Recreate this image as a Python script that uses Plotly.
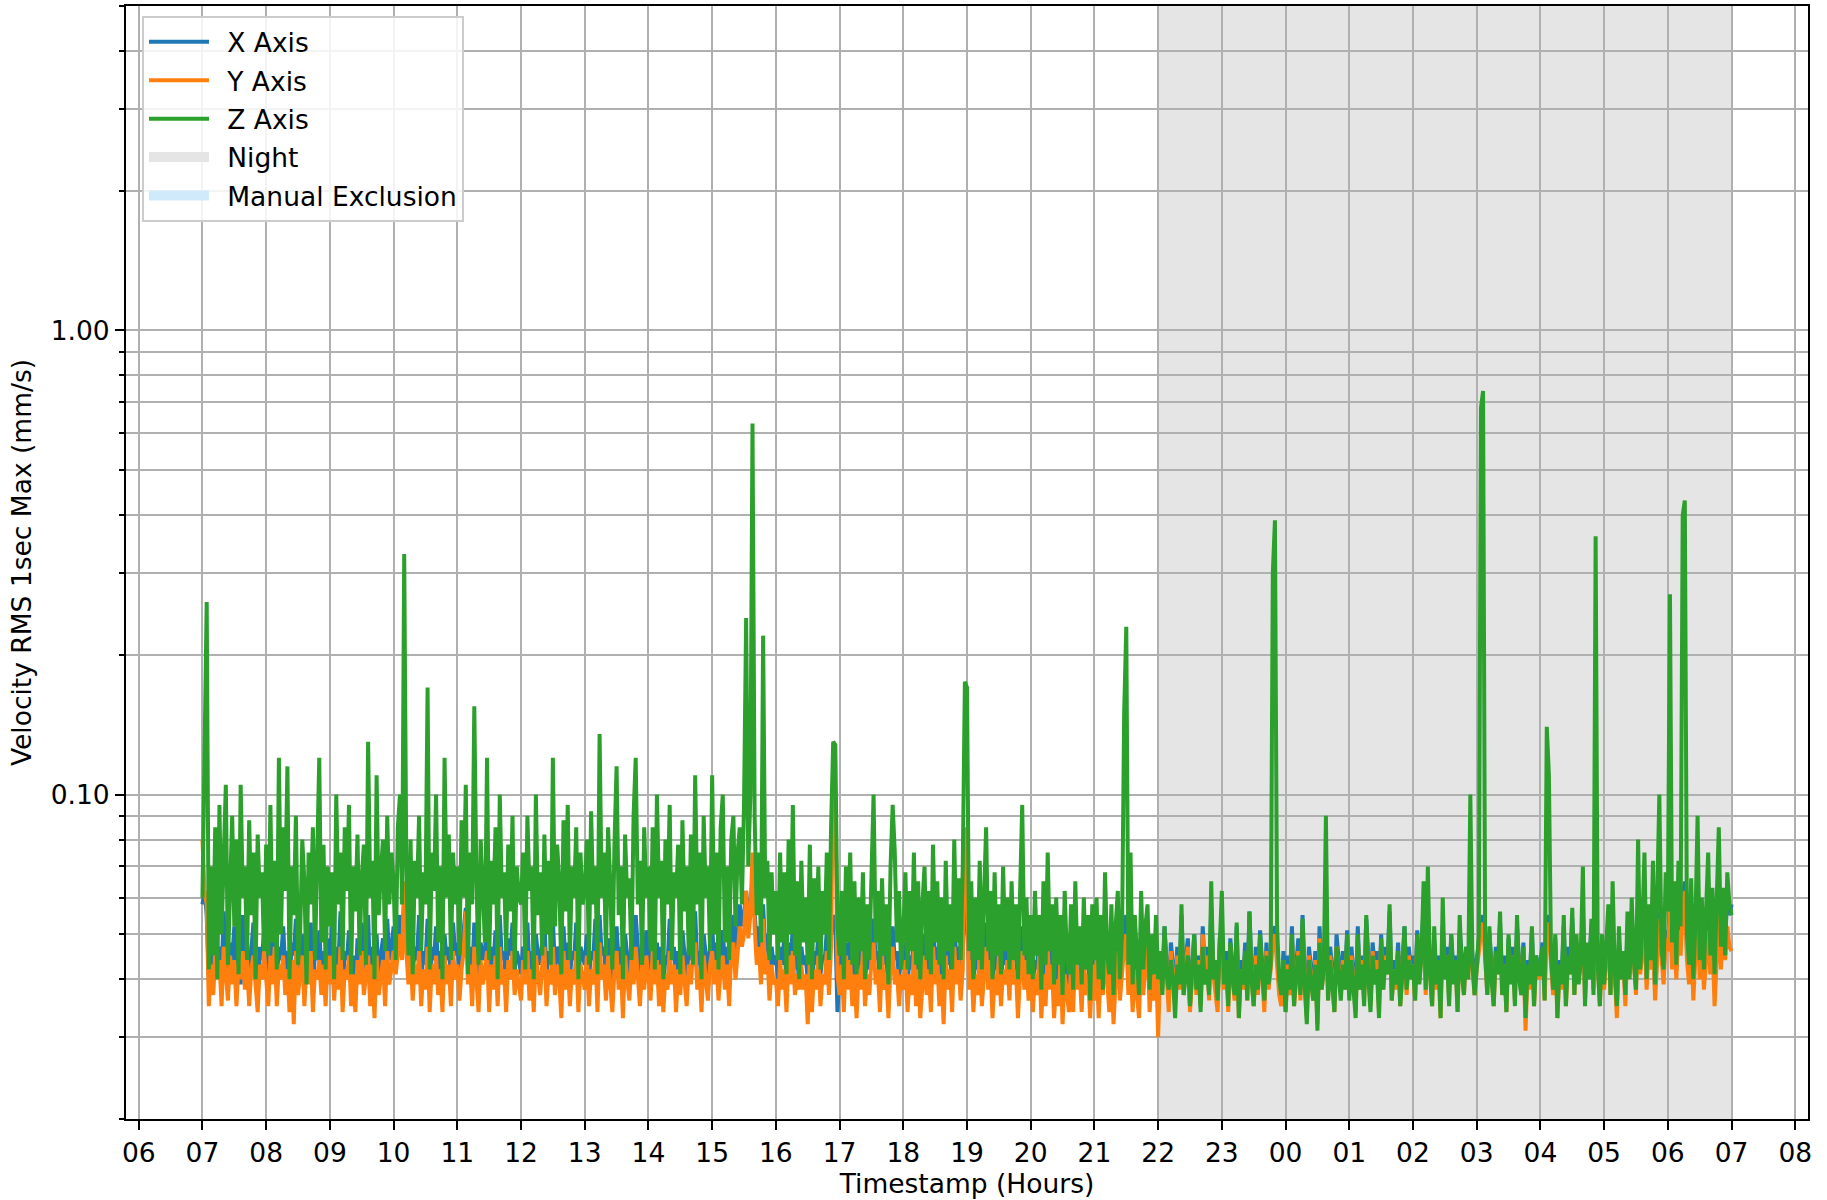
import pandas as pd
import plotly.graph_objects as go

# Sample times: 2-minute steps from 07:00 to 07:00 the next morning
start = "2024-05-13 07:00"
end = "2024-05-14 07:00"
step = "2min"

# Velocity RMS 1 s max (mm/s); two lines per hour, starting at 07:00
x_axis = [
    0.058, 0.062, 0.055, 0.040, 0.046, 0.037, 0.054, 0.043, 0.047, 0.041, 0.056, 0.045, 0.038, 0.048, 0.044,
    0.052, 0.042, 0.046, 0.039, 0.055, 0.044, 0.048, 0.040, 0.046, 0.053, 0.043, 0.038, 0.047, 0.044, 0.051,
    0.045, 0.040, 0.049, 0.043, 0.055, 0.040, 0.047, 0.044, 0.052, 0.042, 0.046, 0.038, 0.048, 0.045, 0.054,
    0.041, 0.044, 0.050, 0.039, 0.046, 0.043, 0.053, 0.037, 0.047, 0.044, 0.051, 0.042, 0.046, 0.039, 0.049,
    0.044, 0.052, 0.040, 0.047, 0.043, 0.056, 0.038, 0.046, 0.044, 0.051, 0.041, 0.045, 0.037, 0.049, 0.043,
    0.053, 0.042, 0.046, 0.055, 0.039, 0.047, 0.044, 0.050, 0.040, 0.045, 0.049, 0.042, 0.054, 0.044, 0.047,
    0.052, 0.046, 0.050, 0.055, 0.048, 0.060, 0.050, 0.045, 0.053, 0.041, 0.047, 0.044, 0.055, 0.040, 0.046,
    0.043, 0.054, 0.039, 0.047, 0.044, 0.052, 0.042, 0.046, 0.038, 0.050, 0.044, 0.047, 0.040, 0.053, 0.045,
    0.048, 0.041, 0.046, 0.052, 0.057, 0.043, 0.047, 0.040, 0.053, 0.045, 0.039, 0.048, 0.044, 0.046, 0.054,
    0.038, 0.047, 0.043, 0.051, 0.040, 0.055, 0.044, 0.046, 0.039, 0.049, 0.045, 0.053, 0.042, 0.046, 0.044,
    0.041, 0.047, 0.044, 0.053, 0.042, 0.046, 0.038, 0.050, 0.045, 0.043, 0.048, 0.055, 0.040, 0.046, 0.044,
    0.054, 0.042, 0.047, 0.045, 0.038, 0.052, 0.043, 0.048, 0.040, 0.046, 0.044, 0.053, 0.039, 0.047, 0.045,
    0.043, 0.050, 0.040, 0.046, 0.044, 0.054, 0.038, 0.055, 0.045, 0.047, 0.041, 0.049, 0.044, 0.039, 0.046,
    0.052, 0.043, 0.047, 0.037, 0.050, 0.045, 0.041, 0.048, 0.044, 0.055, 0.046, 0.040, 0.047, 0.043, 0.051,
    0.046, 0.041, 0.052, 0.044, 0.048, 0.040, 0.047, 0.038, 0.045, 0.043, 0.054, 0.044, 0.047, 0.039, 0.046,
    0.042, 0.051, 0.045, 0.040, 0.047, 0.044, 0.053, 0.056, 0.043, 0.046, 0.039, 0.050, 0.045, 0.041, 0.047,
    0.052, 0.044, 0.048, 0.041, 0.046, 0.051, 0.043, 0.047, 0.040, 0.052, 0.055, 0.045, 0.050, 0.058, 0.052,
    0.055, 0.062, 0.054, 0.058, 0.065, 0.056, 0.047, 0.052, 0.044, 0.058, 0.046, 0.050, 0.041, 0.047, 0.043,
    0.045, 0.040, 0.047, 0.043, 0.050, 0.038, 0.048, 0.044, 0.052, 0.042, 0.045, 0.039, 0.047, 0.043, 0.045,
    0.040, 0.049, 0.038, 0.046, 0.043, 0.050, 0.041, 0.045, 0.044, 0.051, 0.042, 0.050, 0.055, 0.052, 0.034,
    0.042, 0.047, 0.039, 0.048, 0.043, 0.051, 0.040, 0.045, 0.038, 0.046, 0.043, 0.052, 0.040, 0.045, 0.042,
    0.047, 0.054, 0.044, 0.046, 0.039, 0.049, 0.043, 0.045, 0.038, 0.047, 0.052, 0.044, 0.046, 0.040, 0.045,
    0.043, 0.048, 0.039, 0.045, 0.042, 0.052, 0.040, 0.046, 0.038, 0.044, 0.050, 0.042, 0.046, 0.039, 0.053,
    0.044, 0.047, 0.040, 0.045, 0.037, 0.050, 0.043, 0.046, 0.039, 0.054, 0.044, 0.047, 0.041, 0.046, 0.058,
    0.055, 0.043, 0.048, 0.039, 0.045, 0.042, 0.052, 0.040, 0.046, 0.053, 0.043, 0.047, 0.038, 0.045, 0.042,
    0.050, 0.039, 0.046, 0.043, 0.048, 0.040, 0.055, 0.044, 0.046, 0.038, 0.045, 0.052, 0.043, 0.047, 0.040,
    0.046, 0.039, 0.044, 0.042, 0.049, 0.037, 0.045, 0.040, 0.052, 0.043, 0.046, 0.038, 0.044, 0.040, 0.048,
    0.036, 0.045, 0.042, 0.039, 0.047, 0.037, 0.054, 0.043, 0.045, 0.039, 0.048, 0.042, 0.044, 0.038, 0.046,
    0.041, 0.048, 0.038, 0.045, 0.042, 0.052, 0.043, 0.039, 0.047, 0.037, 0.044, 0.050, 0.040, 0.045, 0.052,
    0.055, 0.042, 0.048, 0.039, 0.045, 0.043, 0.038, 0.050, 0.042, 0.046, 0.052, 0.039, 0.044, 0.040, 0.048,
    0.037, 0.045, 0.040, 0.052, 0.043, 0.036, 0.048, 0.042, 0.038, 0.047, 0.040, 0.055, 0.039, 0.044, 0.049,
    0.035, 0.043, 0.050, 0.039, 0.045, 0.037, 0.052, 0.042, 0.047, 0.038, 0.057, 0.043, 0.040, 0.036, 0.049,
    0.052, 0.040, 0.046, 0.036, 0.049, 0.042, 0.038, 0.052, 0.035, 0.044, 0.040, 0.048, 0.038, 0.056, 0.042,
    0.037, 0.047, 0.039, 0.051, 0.043, 0.036, 0.048, 0.040, 0.044, 0.050, 0.052, 0.046, 0.039, 0.037, 0.046,
    0.036, 0.045, 0.039, 0.052, 0.037, 0.043, 0.049, 0.038, 0.055, 0.041, 0.035, 0.047, 0.042, 0.038, 0.046,
    0.034, 0.052, 0.040, 0.044, 0.055, 0.038, 0.047, 0.042, 0.036, 0.050, 0.043, 0.039, 0.046, 0.040, 0.051,
    0.039, 0.047, 0.042, 0.036, 0.052, 0.040, 0.045, 0.038, 0.054, 0.043, 0.037, 0.048, 0.042, 0.046, 0.036,
    0.050, 0.040, 0.047, 0.043, 0.056, 0.038, 0.044, 0.040, 0.048, 0.037, 0.043, 0.052, 0.039, 0.047, 0.042,
    0.045, 0.038, 0.051, 0.042, 0.047, 0.057, 0.040, 0.053, 0.043, 0.037, 0.048, 0.041, 0.045, 0.035, 0.052,
    0.043, 0.047, 0.038, 0.050, 0.042, 0.045, 0.036, 0.051, 0.043, 0.039, 0.047, 0.042, 0.052, 0.044, 0.039,
    0.044, 0.049, 0.052, 0.055, 0.046, 0.039, 0.050, 0.042, 0.037, 0.047, 0.043, 0.053, 0.039, 0.045, 0.036,
    0.049, 0.042, 0.047, 0.038, 0.052, 0.043, 0.039, 0.048, 0.034, 0.044, 0.040, 0.051, 0.037, 0.045, 0.042,
    0.043, 0.048, 0.038, 0.055, 0.052, 0.045, 0.039, 0.049, 0.035, 0.044, 0.040, 0.052, 0.037, 0.047, 0.043,
    0.054, 0.039, 0.048, 0.042, 0.045, 0.056, 0.038, 0.047, 0.043, 0.052, 0.040, 0.058, 0.045, 0.037, 0.048,
    0.041, 0.047, 0.052, 0.039, 0.049, 0.043, 0.035, 0.048, 0.042, 0.046, 0.037, 0.051, 0.043, 0.054, 0.045,
    0.039, 0.056, 0.043, 0.048, 0.053, 0.040, 0.049, 0.044, 0.052, 0.038, 0.047, 0.056, 0.047, 0.041, 0.051,
    0.048, 0.058, 0.045, 0.051, 0.042, 0.053, 0.047, 0.060, 0.065, 0.046, 0.041, 0.051, 0.039, 0.048, 0.056,
    0.043, 0.051, 0.040, 0.049, 0.054, 0.044, 0.052, 0.041, 0.048, 0.060, 0.045, 0.062, 0.048, 0.063, 0.055,
    0.058,
]

y_axis = [
    0.080, 0.062, 0.058, 0.035, 0.043, 0.037, 0.046, 0.040, 0.044, 0.035, 0.047, 0.041, 0.036, 0.045, 0.039,
    0.044, 0.035, 0.043, 0.040, 0.046, 0.038, 0.044, 0.035, 0.042, 0.045, 0.039, 0.034, 0.043, 0.040, 0.046,
    0.041, 0.035, 0.045, 0.039, 0.047, 0.035, 0.043, 0.040, 0.045, 0.037, 0.042, 0.034, 0.044, 0.032, 0.046,
    0.037, 0.041, 0.045, 0.035, 0.043, 0.039, 0.046, 0.034, 0.042, 0.040, 0.044, 0.037, 0.043, 0.035, 0.045,
    0.039, 0.045, 0.036, 0.043, 0.038, 0.047, 0.034, 0.042, 0.040, 0.045, 0.035, 0.041, 0.034, 0.044, 0.039,
    0.046, 0.037, 0.042, 0.045, 0.035, 0.043, 0.033, 0.045, 0.037, 0.041, 0.044, 0.035, 0.046, 0.039, 0.043,
    0.046, 0.041, 0.045, 0.050, 0.044, 0.065, 0.046, 0.039, 0.045, 0.036, 0.043, 0.039, 0.046, 0.035, 0.042,
    0.038, 0.047, 0.034, 0.043, 0.039, 0.045, 0.037, 0.042, 0.034, 0.045, 0.039, 0.043, 0.035, 0.046, 0.040,
    0.043, 0.036, 0.042, 0.046, 0.056, 0.039, 0.043, 0.035, 0.047, 0.040, 0.034, 0.044, 0.039, 0.042, 0.046,
    0.034, 0.043, 0.038, 0.045, 0.035, 0.047, 0.039, 0.042, 0.034, 0.044, 0.040, 0.046, 0.037, 0.042, 0.039,
    0.036, 0.044, 0.039, 0.046, 0.036, 0.042, 0.034, 0.045, 0.040, 0.037, 0.043, 0.047, 0.035, 0.042, 0.039,
    0.047, 0.037, 0.043, 0.040, 0.033, 0.046, 0.038, 0.044, 0.035, 0.042, 0.039, 0.046, 0.034, 0.043, 0.040,
    0.038, 0.045, 0.035, 0.042, 0.039, 0.046, 0.034, 0.048, 0.040, 0.043, 0.036, 0.045, 0.039, 0.034, 0.042,
    0.046, 0.038, 0.043, 0.033, 0.045, 0.040, 0.036, 0.044, 0.039, 0.047, 0.041, 0.035, 0.043, 0.038, 0.045,
    0.041, 0.036, 0.046, 0.039, 0.044, 0.035, 0.043, 0.034, 0.041, 0.038, 0.046, 0.039, 0.043, 0.034, 0.042,
    0.037, 0.045, 0.040, 0.035, 0.043, 0.039, 0.046, 0.048, 0.038, 0.042, 0.034, 0.045, 0.040, 0.036, 0.043,
    0.046, 0.039, 0.044, 0.036, 0.042, 0.045, 0.038, 0.043, 0.035, 0.046, 0.048, 0.040, 0.045, 0.052, 0.047,
    0.050, 0.062, 0.049, 0.055, 0.075, 0.052, 0.043, 0.047, 0.039, 0.054, 0.041, 0.045, 0.036, 0.043, 0.039,
    0.040, 0.035, 0.044, 0.038, 0.042, 0.034, 0.045, 0.039, 0.046, 0.037, 0.041, 0.038, 0.043, 0.038, 0.041,
    0.032, 0.044, 0.034, 0.042, 0.038, 0.045, 0.035, 0.041, 0.039, 0.046, 0.037, 0.047, 0.120, 0.100, 0.041,
    0.037, 0.043, 0.034, 0.045, 0.038, 0.044, 0.035, 0.041, 0.033, 0.042, 0.038, 0.046, 0.035, 0.041, 0.037,
    0.044, 0.048, 0.039, 0.042, 0.034, 0.045, 0.038, 0.041, 0.033, 0.043, 0.047, 0.039, 0.042, 0.035, 0.041,
    0.038, 0.044, 0.034, 0.041, 0.037, 0.046, 0.035, 0.042, 0.033, 0.040, 0.045, 0.037, 0.042, 0.034, 0.047,
    0.039, 0.044, 0.035, 0.041, 0.032, 0.045, 0.038, 0.042, 0.034, 0.047, 0.039, 0.044, 0.036, 0.042, 0.085,
    0.070, 0.038, 0.044, 0.034, 0.041, 0.037, 0.046, 0.035, 0.042, 0.047, 0.038, 0.044, 0.033, 0.041, 0.037,
    0.045, 0.035, 0.042, 0.039, 0.044, 0.036, 0.048, 0.039, 0.042, 0.033, 0.041, 0.046, 0.038, 0.044, 0.036,
    0.042, 0.034, 0.041, 0.037, 0.045, 0.033, 0.041, 0.035, 0.046, 0.038, 0.043, 0.033, 0.040, 0.035, 0.044,
    0.032, 0.041, 0.037, 0.034, 0.043, 0.034, 0.049, 0.038, 0.042, 0.034, 0.045, 0.037, 0.041, 0.033, 0.043,
    0.036, 0.044, 0.033, 0.042, 0.037, 0.047, 0.039, 0.034, 0.043, 0.032, 0.040, 0.046, 0.036, 0.042, 0.047,
    0.050, 0.037, 0.044, 0.034, 0.042, 0.038, 0.033, 0.046, 0.037, 0.043, 0.048, 0.034, 0.041, 0.036, 0.044,
    0.030, 0.043, 0.038, 0.049, 0.041, 0.034, 0.046, 0.040, 0.036, 0.045, 0.038, 0.052, 0.037, 0.043, 0.047,
    0.034, 0.041, 0.048, 0.037, 0.044, 0.035, 0.050, 0.040, 0.045, 0.036, 0.054, 0.041, 0.038, 0.034, 0.047,
    0.050, 0.038, 0.044, 0.034, 0.047, 0.040, 0.036, 0.049, 0.033, 0.042, 0.038, 0.046, 0.036, 0.052, 0.040,
    0.035, 0.045, 0.037, 0.048, 0.041, 0.034, 0.046, 0.038, 0.042, 0.048, 0.050, 0.044, 0.037, 0.035, 0.044,
    0.034, 0.043, 0.037, 0.049, 0.035, 0.041, 0.046, 0.036, 0.051, 0.039, 0.033, 0.045, 0.040, 0.036, 0.044,
    0.032, 0.049, 0.038, 0.042, 0.052, 0.036, 0.045, 0.040, 0.034, 0.047, 0.041, 0.037, 0.044, 0.038, 0.048,
    0.037, 0.045, 0.040, 0.034, 0.049, 0.038, 0.044, 0.036, 0.051, 0.041, 0.035, 0.046, 0.040, 0.044, 0.034,
    0.048, 0.038, 0.045, 0.041, 0.052, 0.036, 0.042, 0.038, 0.046, 0.035, 0.041, 0.049, 0.037, 0.045, 0.040,
    0.043, 0.036, 0.049, 0.040, 0.045, 0.054, 0.037, 0.051, 0.041, 0.035, 0.046, 0.038, 0.044, 0.033, 0.049,
    0.041, 0.045, 0.036, 0.047, 0.040, 0.044, 0.034, 0.048, 0.041, 0.037, 0.045, 0.040, 0.050, 0.042, 0.037,
    0.042, 0.047, 0.050, 0.053, 0.044, 0.037, 0.048, 0.040, 0.035, 0.045, 0.041, 0.050, 0.037, 0.043, 0.034,
    0.047, 0.040, 0.045, 0.036, 0.049, 0.041, 0.037, 0.046, 0.031, 0.042, 0.038, 0.048, 0.035, 0.043, 0.040,
    0.041, 0.046, 0.036, 0.053, 0.050, 0.043, 0.037, 0.047, 0.033, 0.042, 0.038, 0.049, 0.035, 0.044, 0.041,
    0.051, 0.037, 0.046, 0.040, 0.043, 0.054, 0.036, 0.045, 0.041, 0.049, 0.038, 0.056, 0.043, 0.035, 0.046,
    0.038, 0.045, 0.049, 0.037, 0.047, 0.041, 0.033, 0.046, 0.040, 0.044, 0.035, 0.048, 0.041, 0.051, 0.043,
    0.037, 0.054, 0.041, 0.046, 0.051, 0.038, 0.047, 0.042, 0.049, 0.036, 0.045, 0.054, 0.045, 0.039, 0.049,
    0.046, 0.056, 0.042, 0.049, 0.040, 0.051, 0.045, 0.057, 0.062, 0.044, 0.039, 0.049, 0.036, 0.045, 0.054,
    0.040, 0.049, 0.038, 0.046, 0.051, 0.041, 0.049, 0.035, 0.045, 0.055, 0.042, 0.057, 0.044, 0.052, 0.047,
    0.046,
]

z_axis = [
    0.060, 0.140, 0.260, 0.042, 0.070, 0.045, 0.085, 0.040, 0.095, 0.050, 0.075, 0.105, 0.043, 0.065, 0.090,
    0.052, 0.080, 0.041, 0.105, 0.060, 0.070, 0.044, 0.088, 0.055, 0.075, 0.040, 0.082, 0.060, 0.068, 0.046,
    0.078, 0.045, 0.095, 0.048, 0.072, 0.042, 0.120, 0.050, 0.085, 0.062, 0.115, 0.040, 0.070, 0.055, 0.090,
    0.043, 0.050, 0.080, 0.065, 0.039, 0.075, 0.058, 0.085, 0.044, 0.068, 0.120, 0.048, 0.078, 0.042, 0.070,
    0.052, 0.068, 0.040, 0.100, 0.058, 0.075, 0.044, 0.085, 0.062, 0.095, 0.041, 0.070, 0.056, 0.082, 0.045,
    0.066, 0.078, 0.043, 0.130, 0.060, 0.072, 0.040, 0.110, 0.055, 0.068, 0.080, 0.046, 0.090, 0.058, 0.075,
    0.065, 0.044, 0.085, 0.100, 0.058, 0.330, 0.070, 0.045, 0.080, 0.041, 0.072, 0.060, 0.090, 0.046, 0.068,
    0.058, 0.170, 0.042, 0.075, 0.062, 0.100, 0.048, 0.070, 0.040, 0.120, 0.060, 0.082, 0.044, 0.075, 0.058,
    0.070, 0.045, 0.088, 0.060, 0.105, 0.041, 0.075, 0.058, 0.155, 0.065, 0.043, 0.080, 0.062, 0.048, 0.120,
    0.044, 0.072, 0.058, 0.085, 0.040, 0.100, 0.060, 0.068, 0.046, 0.078, 0.056, 0.090, 0.042, 0.070, 0.060,
    0.058, 0.075, 0.042, 0.090, 0.062, 0.070, 0.040, 0.100, 0.055, 0.068, 0.045, 0.082, 0.050, 0.072, 0.043,
    0.120, 0.052, 0.078, 0.065, 0.041, 0.088, 0.056, 0.095, 0.044, 0.070, 0.060, 0.085, 0.040, 0.075, 0.058,
    0.062, 0.080, 0.043, 0.092, 0.058, 0.070, 0.041, 0.135, 0.060, 0.075, 0.045, 0.085, 0.065, 0.042, 0.078,
    0.115, 0.055, 0.070, 0.040, 0.082, 0.060, 0.066, 0.044, 0.090, 0.120, 0.058, 0.072, 0.043, 0.085, 0.060,
    0.070, 0.046, 0.085, 0.042, 0.100, 0.060, 0.072, 0.040, 0.080, 0.058, 0.095, 0.044, 0.068, 0.060, 0.078,
    0.041, 0.088, 0.056, 0.070, 0.045, 0.082, 0.043, 0.110, 0.058, 0.075, 0.040, 0.090, 0.060, 0.070, 0.046,
    0.110, 0.050, 0.075, 0.042, 0.085, 0.100, 0.048, 0.070, 0.044, 0.080, 0.090, 0.052, 0.075, 0.085, 0.058,
    0.095, 0.240, 0.070, 0.100, 0.630, 0.090, 0.055, 0.075, 0.048, 0.220, 0.060, 0.072, 0.044, 0.068, 0.050,
    0.062, 0.044, 0.075, 0.048, 0.068, 0.041, 0.080, 0.050, 0.095, 0.045, 0.065, 0.040, 0.072, 0.048, 0.060,
    0.043, 0.078, 0.040, 0.066, 0.048, 0.070, 0.042, 0.062, 0.050, 0.075, 0.044, 0.085, 0.130, 0.128, 0.052,
    0.045, 0.062, 0.040, 0.070, 0.048, 0.075, 0.043, 0.065, 0.041, 0.060, 0.046, 0.068, 0.040, 0.058, 0.044,
    0.072, 0.100, 0.048, 0.062, 0.042, 0.066, 0.045, 0.058, 0.039, 0.070, 0.095, 0.075, 0.048, 0.062, 0.042,
    0.050, 0.068, 0.042, 0.062, 0.046, 0.075, 0.043, 0.065, 0.040, 0.058, 0.070, 0.044, 0.062, 0.041, 0.078,
    0.048, 0.065, 0.043, 0.060, 0.040, 0.072, 0.046, 0.058, 0.042, 0.080, 0.048, 0.066, 0.044, 0.070, 0.175,
    0.170, 0.046, 0.065, 0.040, 0.060, 0.044, 0.072, 0.042, 0.058, 0.085, 0.046, 0.062, 0.040, 0.068, 0.045,
    0.058, 0.041, 0.070, 0.046, 0.060, 0.042, 0.065, 0.044, 0.058, 0.040, 0.062, 0.095, 0.045, 0.060, 0.041,
    0.055, 0.040, 0.062, 0.045, 0.055, 0.038, 0.065, 0.043, 0.075, 0.046, 0.058, 0.039, 0.060, 0.043, 0.055,
    0.037, 0.062, 0.045, 0.041, 0.058, 0.038, 0.065, 0.043, 0.052, 0.039, 0.060, 0.042, 0.055, 0.036, 0.058,
    0.044, 0.060, 0.040, 0.055, 0.038, 0.068, 0.045, 0.041, 0.058, 0.037, 0.052, 0.062, 0.040, 0.050, 0.150,
    0.230, 0.043, 0.075, 0.039, 0.055, 0.045, 0.037, 0.062, 0.042, 0.052, 0.058, 0.038, 0.050, 0.041, 0.055,
    0.040, 0.046, 0.037, 0.052, 0.041, 0.038, 0.044, 0.040, 0.033, 0.043, 0.039, 0.058, 0.037, 0.042, 0.045,
    0.035, 0.041, 0.050, 0.038, 0.043, 0.034, 0.047, 0.039, 0.042, 0.037, 0.065, 0.040, 0.044, 0.036, 0.048,
    0.062, 0.039, 0.044, 0.035, 0.048, 0.040, 0.037, 0.053, 0.033, 0.042, 0.039, 0.046, 0.036, 0.056, 0.040,
    0.035, 0.043, 0.038, 0.050, 0.041, 0.036, 0.045, 0.039, 0.043, 0.300, 0.390, 0.052, 0.040, 0.037, 0.044,
    0.034, 0.042, 0.038, 0.050, 0.035, 0.041, 0.045, 0.037, 0.054, 0.039, 0.032, 0.044, 0.040, 0.036, 0.043,
    0.031, 0.048, 0.038, 0.042, 0.090, 0.036, 0.044, 0.039, 0.034, 0.047, 0.040, 0.036, 0.043, 0.038, 0.050,
    0.036, 0.044, 0.039, 0.033, 0.050, 0.038, 0.043, 0.035, 0.055, 0.040, 0.034, 0.045, 0.039, 0.042, 0.033,
    0.049, 0.038, 0.044, 0.041, 0.058, 0.036, 0.042, 0.039, 0.046, 0.035, 0.041, 0.052, 0.038, 0.044, 0.040,
    0.043, 0.036, 0.050, 0.039, 0.045, 0.065, 0.038, 0.070, 0.041, 0.035, 0.052, 0.039, 0.044, 0.033, 0.060,
    0.040, 0.045, 0.035, 0.050, 0.039, 0.044, 0.034, 0.055, 0.041, 0.037, 0.047, 0.040, 0.100, 0.043, 0.037,
    0.042, 0.050, 0.680, 0.740, 0.045, 0.037, 0.052, 0.040, 0.035, 0.046, 0.041, 0.056, 0.037, 0.043, 0.034,
    0.050, 0.039, 0.045, 0.035, 0.055, 0.040, 0.037, 0.047, 0.033, 0.043, 0.039, 0.052, 0.035, 0.045, 0.041,
    0.041, 0.047, 0.036, 0.140, 0.110, 0.045, 0.038, 0.050, 0.033, 0.043, 0.039, 0.055, 0.035, 0.045, 0.041,
    0.057, 0.037, 0.050, 0.039, 0.044, 0.070, 0.035, 0.048, 0.040, 0.054, 0.037, 0.360, 0.043, 0.035, 0.050,
    0.039, 0.048, 0.058, 0.037, 0.065, 0.042, 0.035, 0.052, 0.040, 0.046, 0.037, 0.056, 0.040, 0.060, 0.044,
    0.038, 0.080, 0.042, 0.052, 0.075, 0.040, 0.058, 0.044, 0.072, 0.039, 0.060, 0.100, 0.047, 0.042, 0.068,
    0.056, 0.270, 0.048, 0.065, 0.043, 0.072, 0.052, 0.400, 0.430, 0.050, 0.043, 0.066, 0.040, 0.053, 0.090,
    0.044, 0.060, 0.042, 0.056, 0.075, 0.045, 0.063, 0.041, 0.058, 0.085, 0.047, 0.063, 0.045, 0.068, 0.058,
    0.055,
]

# Night period shading
night_start = "2024-05-13 22:00"
night_end = "2024-05-14 07:00"

# Axis window and tick labels
x_range = ["2024-05-13 05:48", "2024-05-14 08:12"]
y_major = [0.1, 1.0]
y_major_text = ["0.10", "1.00"]
y_minor = [0.02, 0.03, 0.04, 0.05, 0.06, 0.07, 0.08, 0.09,
           0.2, 0.3, 0.4, 0.5, 0.6, 0.7, 0.8, 0.9, 2, 3, 4, 5]

times = pd.date_range(start, end, freq=step)
assert len(times) == len(x_axis) == len(y_axis) == len(z_axis), (
    len(times), len(x_axis), len(y_axis), len(z_axis))

FONT = "DejaVu Sans"
FS = 26.5
GRID = "#b0b0b0"
PAD = "\u2002"  # spacing between legend symbol and label

fig = go.Figure()

for name, vals, color in [("X Axis", x_axis, "#1f77b4"),
                          ("Y Axis", y_axis, "#ff7f0e"),
                          ("Z Axis", z_axis, "#2ca02c")]:
    fig.add_trace(go.Scatter(x=times, y=vals, name=PAD + name, mode="lines",
                             legendgroup=name,
                             line=dict(color=color, width=4)))

# Legend-only patches for the shaded periods
for name, color in [("Night", "#e5e5e5"), ("Manual Exclusion", "#d0eafc")]:
    fig.add_trace(go.Scatter(x=[None], y=[None], name=PAD + name, mode="lines",
                             legendgroup=name,
                             line=dict(width=20, color=color)))

fig.add_shape(type="rect", xref="x", yref="paper",
              x0=night_start, x1=night_end, y0=0, y1=1,
              fillcolor="#e5e5e5", line=dict(width=0), layer="below")

fig.update_layout(
    width=1827, height=1200,
    margin=dict(l=126, r=19, t=6, b=81),
    paper_bgcolor="white", plot_bgcolor="white",
    font=dict(family=FONT, size=FS, color="black"),
    showlegend=True,
    legend=dict(x=0.0095, y=0.991, xanchor="left", yanchor="top",
                bgcolor="rgba(255,255,255,0.85)", bordercolor="#cccccc",
                borderwidth=2, font=dict(family=FONT, size=FS),
                itemwidth=60, traceorder="grouped", tracegroupgap=1),
    xaxis=dict(
        type="date", range=x_range, dtick=3600000, tick0="2024-05-13 06:00",
        tickformat="%H", showgrid=True, gridcolor=GRID, gridwidth=2,
        ticks="outside", ticklen=9, tickwidth=2, tickcolor="black",
        showline=True, linecolor="black", linewidth=2, mirror=True,
        automargin=False, zeroline=False,
        title=dict(text="Timestamp (Hours)", standoff=8,
                   font=dict(family=FONT, size=FS)),
    ),
    yaxis=dict(
        type="log", range=[-1.69897, 0.69897],
        tickmode="array", tickvals=y_major, ticktext=y_major_text,
        showgrid=True, gridcolor=GRID, gridwidth=2,
        ticks="outside", ticklen=9, tickwidth=2, tickcolor="black",
        minor=dict(tickmode="array", tickvals=y_minor, ticks="outside",
                   ticklen=5, tickwidth=2, tickcolor="black",
                   showgrid=True, gridcolor=GRID, gridwidth=2),
        showline=True, linecolor="black", linewidth=2, mirror=True,
        automargin=False, zeroline=False,
        title=dict(text="Velocity RMS 1sec Max (mm/s)", standoff=11,
                   font=dict(family=FONT, size=FS)),
    ),
)

fig.write_html("out.html")
